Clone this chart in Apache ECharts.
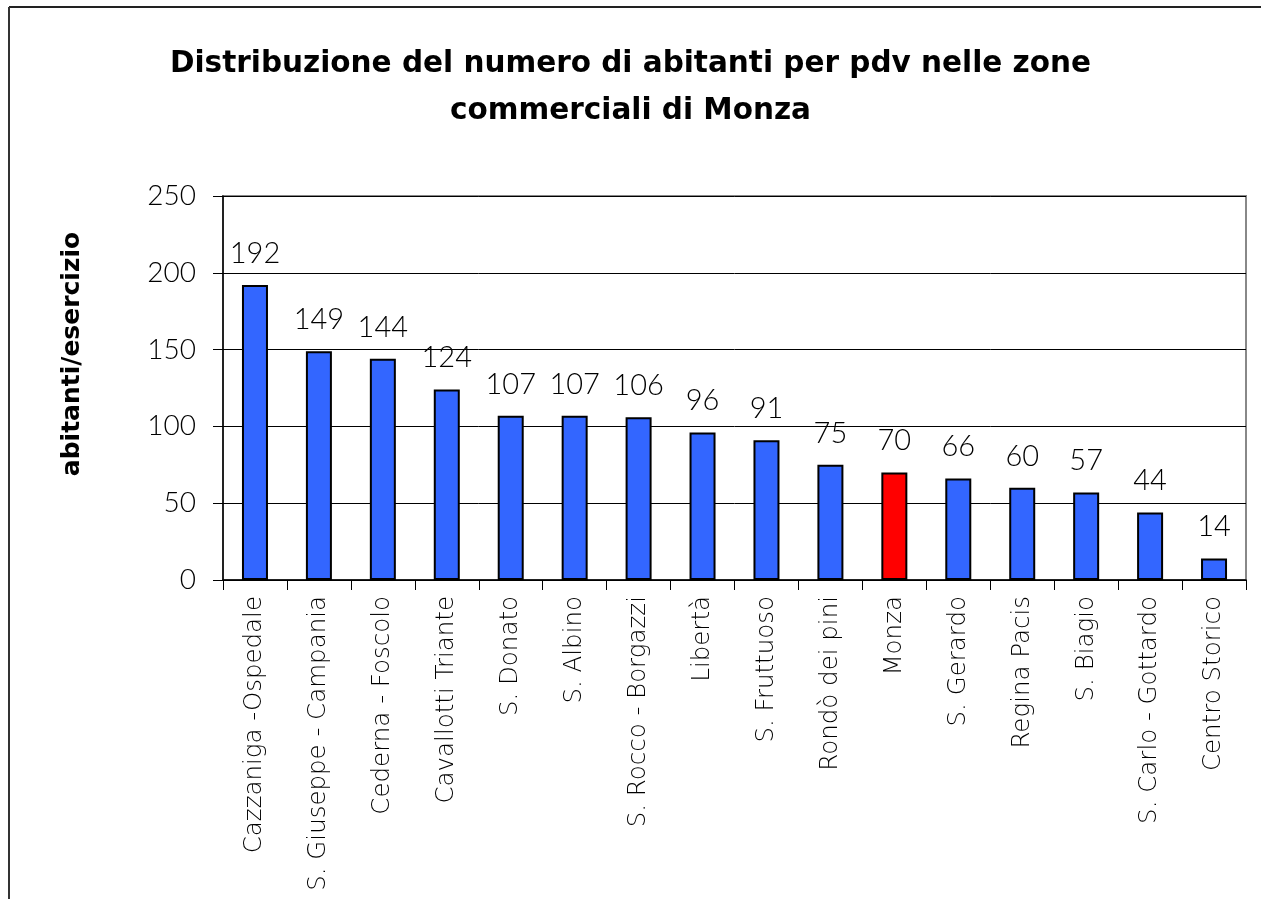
<!DOCTYPE html>
<html><head><meta charset="utf-8">
<script src="https://cdn.jsdelivr.net/npm/echarts@6/dist/echarts.min.js"></script>
<style>html,body{margin:0;padding:0;background:#fff}#c{width:1261px;height:899px}</style>
</head><body><div id="c"></div>
<script>
const categories = ["Cazzaniga -Ospedale","S. Giuseppe - Campania","Cederna - Foscolo","Cavallotti Triante","S. Donato","S. Albino","S. Rocco - Borgazzi","Libertà","S. Fruttuoso","Rondò dei pini","Monza","S. Gerardo","Regina Pacis","S. Biagio","S. Carlo - Gottardo","Centro Storico"];
const values = [192,149,144,124,107,107,106,96,91,75,70,66,60,57,44,14];
const highlight = "Monza";
const yTicks = [0,50,100,150,200,250];
const titleText = "Distribuzione del numero di abitanti per pdv nelle zone\ncommerciali di Monza";
const yName = "abitanti/esercizio";

const numFont = "Lato, 'DejaVu Sans', sans-serif";
const wideFont = "'DejaVu Sans ExtraLight', 'DejaVu Sans', sans-serif";
const boldFont = "'DejaVu Sans', sans-serif";
const chart = echarts.init(document.getElementById('c'));
chart.setOption({
  backgroundColor: '#fff',
  animation: false,
  title: {
    text: titleText, left: 'center', top: 36,
    textStyle: {fontFamily: boldFont, fontSize: 29.5, fontWeight: 'bold', color: '#000', lineHeight: 47}
  },
  graphic: [
    {type: 'line', shape: {x1: 9, y1: 7, x2: 1261, y2: 7}, style: {stroke: '#222', lineWidth: 2}},
    {type: 'line', shape: {x1: 9, y1: 7, x2: 9, y2: 899}, style: {stroke: '#333', lineWidth: 2}},
    {type: 'text', x: 72, y: 354, rotation: Math.PI / 2,
     style: {text: yName, font: "bold 25px 'DejaVu Sans', sans-serif", fill: '#000', textAlign: 'center', textVerticalAlign: 'middle'}}
  ],
  grid: {left: 223, right: 15, top: 196, bottom: 319, show: true, borderColor: '#888', borderWidth: 2},
  xAxis: {
    type: 'category', data: categories,
    axisLine: {lineStyle: {color: '#000', width: 1.5}},
    axisTick: {show: true, length: 10, lineStyle: {color: '#000'}, alignWithLabel: false},
    axisLabel: {rotate: 90, fontFamily: wideFont, fontSize: 24.5, color: '#000', margin: 16, fontWeight: 200}
  },
  yAxis: {
    type: 'value', min: yTicks[0], max: yTicks[yTicks.length-1], interval: 50,
    axisLine: {show: true, lineStyle: {color: '#000', width: 1.5}},
    axisTick: {show: true, length: 10, lineStyle: {color: '#000'}},
    axisLabel: {fontFamily: numFont, fontSize: 28, color: '#000', margin: 27, fontWeight: 300},
    splitLine: {show: true, lineStyle: {color: '#000', width: 1}}
  },
  series: [{
    type: 'bar', barWidth: 26,
    data: values.map((v, i) => ({value: v, itemStyle: {color: categories[i] === highlight ? '#FF0000' : '#3366FF'}})),
    itemStyle: {borderColor: '#000', borderWidth: 2},
    label: {show: true, position: 'top', distance: 17, fontFamily: numFont, fontSize: 29, color: '#000', fontWeight: 300}
  }]
});
</script></body></html>
